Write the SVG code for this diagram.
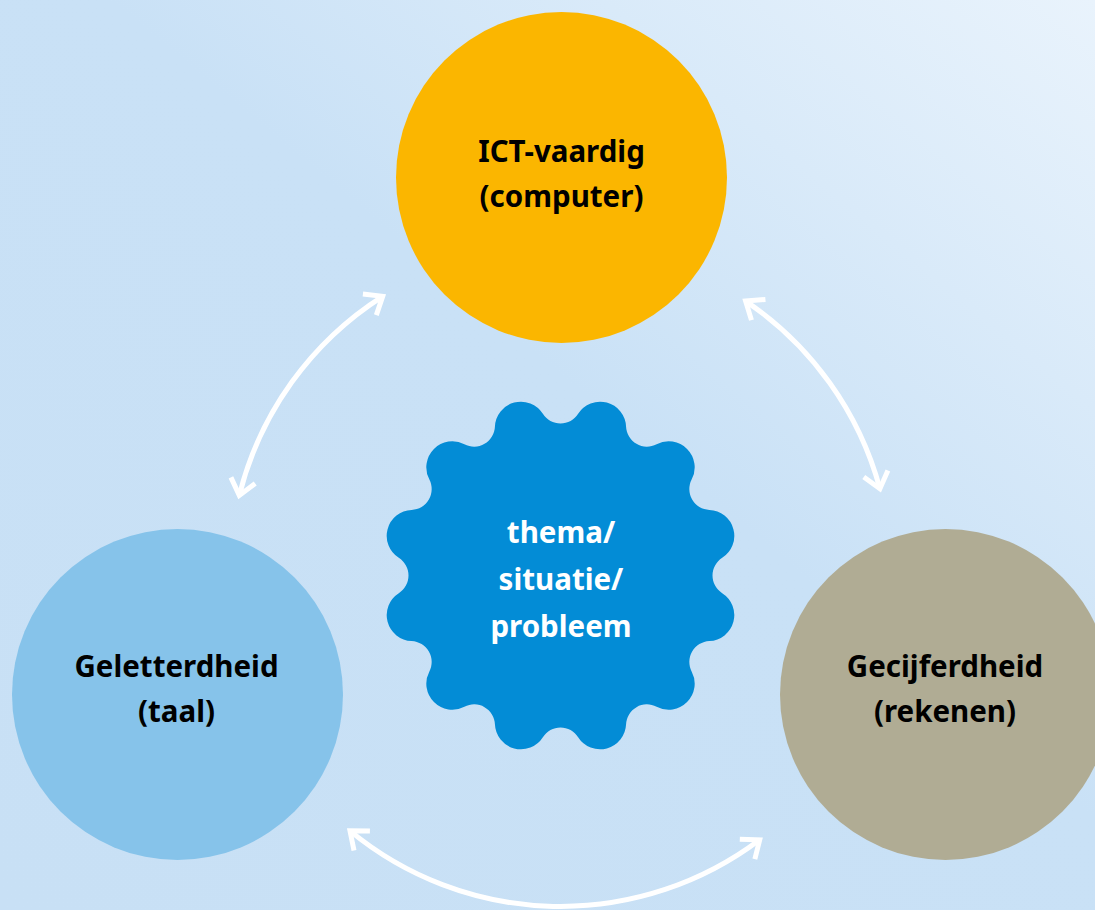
<svg xmlns="http://www.w3.org/2000/svg" width="1095" height="910" viewBox="0 0 1095 910">
<defs>
<linearGradient id="bg" x1="0" y1="1" x2="1" y2="0">
<stop offset="0" stop-color="#C8E0F5"/>
<stop offset="0.55" stop-color="#C9E1F6"/>
<stop offset="1" stop-color="#E9F3FC"/>
</linearGradient>
<marker id="chev" markerUnits="userSpaceOnUse" markerWidth="40" markerHeight="40" viewBox="-20 -20 40 40" refX="0" refY="0" orient="auto-start-reverse">
<path d="M -15.5,-12.5 L 0,0 L -15.5,12.5" fill="none" stroke="#FFFFFF" stroke-width="5"/>
</marker>
<clipPath id="page"><rect x="0" y="0" width="1095" height="910"/></clipPath>
</defs>
<style>
.lbl{font-family:"Noto Sans","Open Sans","Liberation Sans",sans-serif;font-weight:700;font-size:29.5px;text-anchor:middle;fill:#000000}
.wlbl{font-family:"Noto Sans","Open Sans","Liberation Sans",sans-serif;font-weight:700;font-size:29.5px;text-anchor:middle;fill:#FFFFFF}
.conn{fill:none;stroke:#FFFFFF;stroke-width:5;marker-start:url(#chev);marker-end:url(#chev)}
</style>
<rect x="0" y="0" width="1095" height="910" fill="url(#bg)"/>
<g clip-path="url(#page)">
<g id="node-ict">
<circle cx="561.5" cy="177.5" r="165.5" fill="#FBB600"/>
<text class="lbl" x="561.5" y="162">ICT-vaardig</text>
<text class="lbl" x="561.5" y="207">(computer)</text>
</g>
<g id="node-geletterdheid">
<circle cx="177.5" cy="694.5" r="165.5" fill="#86C3EA"/>
<text class="lbl" x="176.5" y="677">Geletterdheid</text>
<text class="lbl" x="176.5" y="722">(taal)</text>
</g>
<g id="node-gecijferdheid">
<circle cx="945.5" cy="694.5" r="165.5" fill="#B0AC94"/>
<text class="lbl" x="945" y="677">Gecijferdheid</text>
<text class="lbl" x="945" y="722">(rekenen)</text>
</g>
<g id="node-thema">
<path fill="#038CD6" d="M 578.14,413.79 A 26 26 0 0 1 626.08,426.64 A 20.88 20.88 0 0 0 656.63,444.28 A 26 26 0 0 1 691.72,479.37 A 20.88 20.88 0 0 0 709.36,509.92 A 26 26 0 0 1 722.21,557.86 A 20.88 20.88 0 0 0 722.21,593.14 A 26 26 0 0 1 709.36,641.08 A 20.88 20.88 0 0 0 691.72,671.63 A 26 26 0 0 1 656.63,706.72 A 20.88 20.88 0 0 0 626.08,724.36 A 26 26 0 0 1 578.14,737.21 A 20.88 20.88 0 0 0 542.86,737.21 A 26 26 0 0 1 494.92,724.36 A 20.88 20.88 0 0 0 464.37,706.72 A 26 26 0 0 1 429.28,671.63 A 20.88 20.88 0 0 0 411.64,641.08 A 26 26 0 0 1 398.79,593.14 A 20.88 20.88 0 0 0 398.79,557.86 A 26 26 0 0 1 411.64,509.92 A 20.88 20.88 0 0 0 429.28,479.37 A 26 26 0 0 1 464.37,444.28 A 20.88 20.88 0 0 0 494.92,426.64 A 26 26 0 0 1 542.86,413.79 A 20.88 20.88 0 0 0 578.14,413.79 Z"/>
<text class="wlbl" x="561" y="543">thema/</text>
<text class="wlbl" x="561" y="590">situatie/</text>
<text class="wlbl" x="561" y="637">probleem</text>
</g>
<g id="connectors">
<path class="conn" d="M 239.3,495.4 A 331 331 0 0 1 382.7,296.3"/>
<path class="conn" d="M 745.6,301.1 A 331 331 0 0 1 879.9,488.7"/>
<path class="conn" d="M 759.7,839.8 A 331 331 0 0 1 350.0,830.9"/>
</g>
</g>
</svg>
